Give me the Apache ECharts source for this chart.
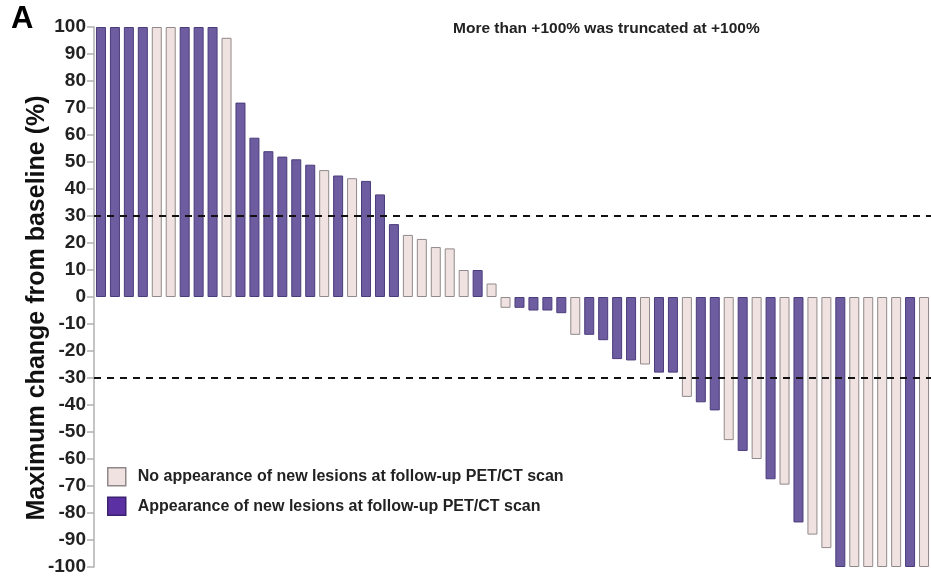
<!DOCTYPE html>
<html>
<head>
<meta charset="utf-8">
<script src="https://cdn.jsdelivr.net/npm/echarts@6/dist/echarts.min.js"></script>
<style>
  html, body { margin: 0; padding: 0; background: #fff; }
  #chart { width: 931px; height: 582px; }
</style>
</head>
<body>
<div id="chart"></div>
<script>
// Best percentage change per patient, sorted from largest increase to largest decrease
const changeValues = [
  100, 100, 100, 100, 100, 100, 100, 100, 100, 96,
  72, 59, 54, 52, 51, 49, 47, 45, 44, 43,
  38, 27, 23, 21.5, 18.5, 18, 10, 10, 5, -4,
  -4, -5, -5, -6, -14, -14, -16, -23, -23.5, -25,
  -28, -28, -37, -39, -42, -53, -57, -60, -67.5, -69.5,
  -83.5, -88, -93, -100, -100, -100, -100, -100, -100, -100
];
// 1 = new lesions on follow-up PET/CT, 0 = none
const newLesionFlags = [
  1, 1, 1, 1, 0, 0, 1, 1, 1, 0,
  1, 1, 1, 1, 1, 1, 0, 1, 0, 1,
  1, 1, 0, 0, 0, 0, 0, 1, 0, 0,
  1, 1, 1, 1, 0, 1, 1, 1, 1, 0,
  1, 1, 0, 1, 1, 0, 1, 0, 1, 0,
  1, 0, 0, 1, 0, 0, 0, 0, 1, 0
];
const patients = changeValues.map((_, i) => 'P' + (i + 1));
const seriesNames = [
  'No appearance of new lesions at follow-up PET/CT scan',
  'Appearance of new lesions at follow-up PET/CT scan'
];
const yTitle = 'Maximum change from baseline (%)';
const thresholds = [30, -30];

const noNew = changeValues.map((v, i) => newLesionFlags[i] === 0 ? v : null);
const withNew = changeValues.map((v, i) => newLesionFlags[i] === 1 ? v : null);

const chart = echarts.init(document.getElementById('chart'), null, { renderer: 'canvas' });
const FONT = 'Liberation Sans, Arial, sans-serif';

chart.setOption({
  animation: false,
  backgroundColor: '#ffffff',
  grid: { left: 94, top: 27, width: 840, height: 540, containLabel: false },
  xAxis: {
    type: 'category',
    data: patients,
    axisLine: { show: false },
    axisTick: { show: false },
    axisLabel: { show: false },
    splitLine: { show: false }
  },
  yAxis: {
    type: 'value',
    min: -100,
    max: 100,
    interval: 10,
    axisLine: { show: true, lineStyle: { color: '#b0b0b0', width: 1.5 } },
    axisTick: { show: true, length: 7, lineStyle: { color: '#b0b0b0', width: 1.5 } },
    axisLabel: { margin: 8, fontFamily: FONT, fontWeight: 'bold', fontSize: 19, color: '#222' },
    splitLine: { show: false }
  },
  legend: {
    orient: 'vertical',
    left: 102,
    top: 462,
    itemWidth: 18,
    itemHeight: 18,
    itemGap: 10,
    icon: 'rect',
    textStyle: { fontFamily: FONT, fontWeight: 'bold', fontSize: 16, color: '#222', padding: [0, 0, 0, 7] },
    data: [
      { name: seriesNames[0], itemStyle: { color: '#efe2e0', borderColor: '#8f8888', borderWidth: 1.5 } },
      { name: seriesNames[1], itemStyle: { color: '#5a30a2', borderColor: '#3a2270', borderWidth: 1.5 } }
    ]
  },
  graphic: [
    {
      type: 'text', left: 11, top: 4,
      style: { text: 'A', fontFamily: FONT, fontWeight: 'bold', fontSize: 31, fill: '#000' }
    },
    {
      type: 'text', left: 453, top: 21,
      style: { text: 'More than +100% was truncated at +100%', fontFamily: FONT, fontWeight: 'bold', fontSize: 15.5, fill: '#222' }
    },
    {
      type: 'text', x: 37, y: 308, rotation: Math.PI / 2,
      style: {
        text: yTitle, fontFamily: FONT, fontWeight: 'bold', fontSize: 25, fill: '#111',
        align: 'center', verticalAlign: 'middle'
      }
    }
  ],
  series: [
    {
      name: seriesNames[0],
      type: 'bar',
      data: noNew,
      barWidth: 10,
      barGap: '-100%',
      itemStyle: { color: '#efe2e0', borderColor: '#928a8a', borderWidth: 1 }
    },
    {
      name: seriesNames[1],
      type: 'bar',
      data: withNew,
      barWidth: 10,
      barGap: '-100%',
      itemStyle: { color: '#6e5ca0', borderColor: '#4a3c7a', borderWidth: 1 },
      markLine: {
        silent: true,
        symbol: 'none',
        z: 10,
        label: { show: false },
        lineStyle: { color: '#111', type: [7, 6], width: 2 },
        data: thresholds.map(t => ({ yAxis: t }))
      }
    }
  ]
});
</script>
</body>
</html>
